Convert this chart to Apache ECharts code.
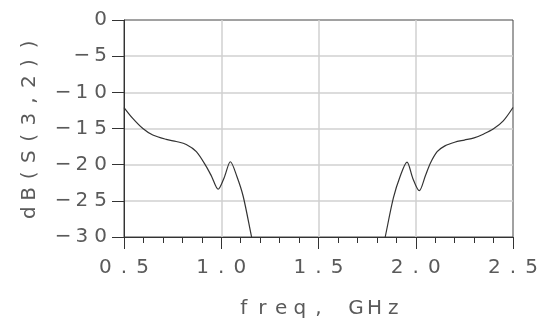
<!DOCTYPE html>
<html>
<head>
<meta charset="utf-8">
<script src="https://cdn.jsdelivr.net/npm/echarts@6/dist/echarts.min.js"></script>
<style>
html, body { margin: 0; padding: 0; background: #fff; }
#chart { width: 553px; height: 324px; }
</style>
</head>
<body>
<div id="chart"></div>
<script>
var freq = [0.5, 0.545, 0.597, 0.648, 0.717, 0.769, 0.82, 0.872, 0.924, 0.95, 0.984, 1.015, 1.047, 1.08, 1.113, 1.156, 1.2,
            1.8, 1.843, 1.885, 1.92, 1.955, 1.985, 2.018, 2.05, 2.075, 2.11, 2.15, 2.2, 2.25, 2.3, 2.35, 2.4, 2.45, 2.5];
var s32 = [-12.1, -13.6, -15.0, -15.9, -16.5, -16.8, -17.2, -18.2, -20.3, -21.6, -23.4, -21.8, -19.6, -21.6, -24.4, -30.0, -35.5,
           -35.5, -30.0, -24.6, -21.6, -19.65, -21.9, -23.6, -21.5, -19.8, -18.2, -17.4, -16.9, -16.6, -16.3, -15.75, -15.05, -13.95, -12.1];
var xName = 'freq, GHz';
var yName = 'dB(S(3,2))';

var chart = echarts.init(document.getElementById('chart'));

// one fixed-width cell per character, like the plotter font
function cells(s) {
    return s.split('').map(function (c) { return '{c|' + c + '}'; }).join('');
}
var cellStyle = {
    c: { width: 18.7, align: 'center', fontSize: 20, color: '#5a5a5a', fontFamily: 'DejaVu Sans' }
};

var points = [];
for (var i = 0; i < freq.length; i++) {
    points.push([freq[i], s32[i]]);
}

var option = {
    animation: false,
    grid: {
        left: 124, right: 40, top: 20, bottom: 86,
        show: true, borderColor: '#444', borderWidth: 1
    },
    xAxis: {
        type: 'value',
        min: 0.5, max: 2.5, interval: 0.5,
        name: cells(xName),
        nameLocation: 'middle',
        nameGap: 62,
        nameTextStyle: { rich: cellStyle },
        axisLine: { onZero: false, lineStyle: { color: '#333', width: 1 } },
        axisTick: { length: 12, lineStyle: { color: '#333' } },
        minorTick: { show: true, splitNumber: 5, length: 6, lineStyle: { color: '#333' } },
        axisLabel: {
            margin: 21,
            formatter: function (v) { return cells(v.toFixed(1)); },
            rich: cellStyle
        },
        splitLine: { show: true, showMinLine: false, showMaxLine: false, lineStyle: { color: '#d0d0d0', width: 1.5 } }
    },
    yAxis: {
        type: 'value',
        min: -30, max: 0, interval: 5,
        name: cells(yName),
        nameLocation: 'middle',
        nameGap: 84,
        nameRotate: 90,
        nameTextStyle: { rich: cellStyle },
        axisLine: { show: true, onZero: false, lineStyle: { color: '#333', width: 1 } },
        axisTick: { show: true, length: 12, lineStyle: { color: '#333' } },
        axisLabel: {
            margin: 14,
            formatter: function (v) { return cells(v === 0 ? '0' : '\u2212' + Math.abs(v)); },
            rich: cellStyle
        },
        splitLine: { show: true, showMinLine: false, showMaxLine: false, lineStyle: { color: '#d0d0d0', width: 1.5 } }
    },
    series: [
        {
            type: 'line',
            data: points,
            smooth: 0.3,
            showSymbol: false,
            clip: true,
            lineStyle: { color: '#333', width: 1.2 }
        }
    ]
};
chart.setOption(option);
window.onresize = chart.resize;
</script>
</body>
</html>
